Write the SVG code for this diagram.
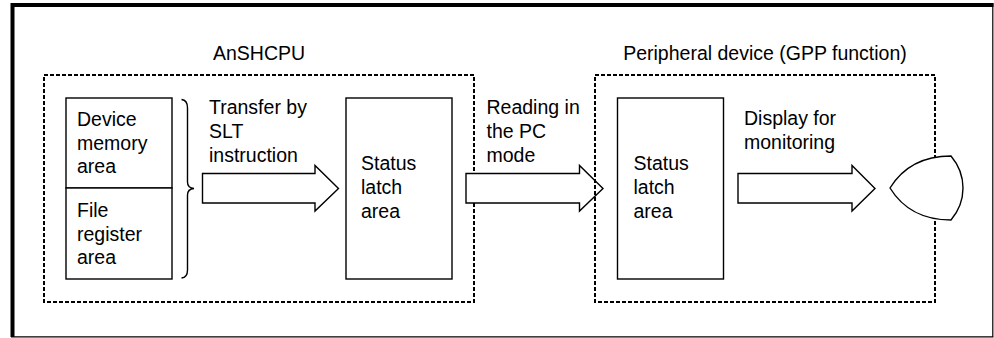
<svg xmlns="http://www.w3.org/2000/svg" width="994" height="338" viewBox="0 0 994 338">
<style>
text{font-family:"Liberation Sans",Arial,sans-serif;font-size:19.5px;fill:#000}
.box{fill:#fff;stroke:#000;stroke-width:1.4}
.dot{fill:none;stroke:#000;stroke-width:2;stroke-dasharray:4 2}
.arr{fill:#fff;stroke:#000;stroke-width:1.4;stroke-linejoin:miter}
</style>
<rect width="994" height="338" fill="#fff"/>
<g id="frame">
<path d="M12.5,3 V337" stroke="#000" stroke-width="4"/>
<path d="M11,5 H993.5" stroke="#000" stroke-width="4"/>
<path d="M992.8,3 V337 M11,336.8 H993.5" stroke="#000" stroke-width="1.2"/>
</g>
<g id="anshcpu">
<rect class="dot" x="44" y="75" width="430" height="227"/>
<text x="259" y="60" text-anchor="middle">AnSHCPU</text>
</g>
<g id="device-memory">
<rect class="box" x="66" y="98" width="106" height="90"/>
<text x="77" y="126">Device</text>
<text x="77" y="149.5">memory</text>
<text x="77" y="173">area</text>
</g>
<g id="file-register">
<rect class="box" x="66" y="188" width="106" height="91"/>
<text x="77" y="216.5">File</text>
<text x="77" y="240.5">register</text>
<text x="77" y="264">area</text>
</g>
<g id="brace">
<path d="M181.5,99.5 Q187.5,100 187.5,108 V182 Q187.5,188 194,188.5 Q187.5,189 187.5,195 V270 Q187.5,277.5 181.5,278" fill="none" stroke="#000" stroke-width="1.4"/>
</g>
<g id="status1">
<rect class="box" x="346" y="98" width="106" height="181"/>
<text x="361" y="170">Status</text>
<text x="361" y="194">latch</text>
<text x="361" y="217.5">area</text>
</g>
<g id="connectors">
<path class="arr" d="M202.5,173.5 H315 V165.5 L338.5,188.5 L315,211 V203 H202.5 Z"/>
<text x="209" y="114">Transfer by</text>
<text x="209" y="137.5">SLT</text>
<text x="209" y="161.5">instruction</text>
<path class="arr" d="M466,173.5 H579.5 V165.5 L603,188.5 L579.5,211 V203 H466 Z"/>
<text x="486.5" y="114">Reading in</text>
<text x="486.5" y="137.5">the PC</text>
<text x="486.5" y="161.5">mode</text>
</g>
<g id="peripheral">
<rect class="dot" x="595" y="75" width="340" height="227"/>
<text x="765" y="60" text-anchor="middle">Peripheral device (GPP function)</text>
</g>
<g id="status2">
<rect class="box" x="617.5" y="98" width="106" height="181"/>
<text x="633.5" y="170">Status</text>
<text x="633.5" y="194">latch</text>
<text x="633.5" y="217.5">area</text>
</g>
<g id="display-arrow">
<path class="arr" d="M738,173.5 H852 V165.5 L875,188.5 L852,211 V203 H738 Z"/>
<text x="744" y="125.3">Display for</text>
<text x="744" y="149.3">monitoring</text>
</g>
<g id="display">
<path d="M890,188 C903,167 922,156 951,156 C967,175 967,201 951,220 C922,220 903,209 890,188 Z" fill="#fff" stroke="#000" stroke-width="1.4"/>
</g>
</svg>
